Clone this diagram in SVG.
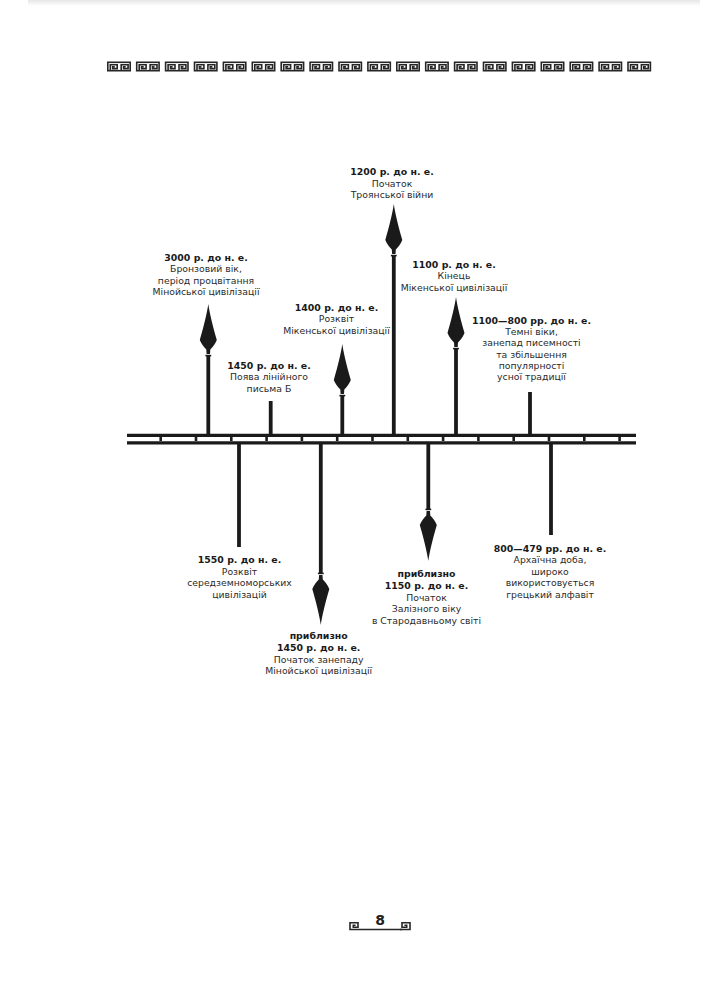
<svg xmlns="http://www.w3.org/2000/svg" xmlns:xlink="http://www.w3.org/1999/xlink" width="728" height="1000" viewBox="0 0 728 1000">
  <defs>
    <style>
      .d { font-family: "DejaVu Sans", "Liberation Sans", sans-serif; font-weight: bold; font-size: 9.4px; fill: #1a1a1a; text-anchor: middle; }
      .t { font-family: "DejaVu Sans", "Liberation Sans", sans-serif; font-size: 9.3px; fill: #2a2a2a; text-anchor: middle; }
      .stem { stroke: #1a1a1a; stroke-width: 3.8; fill: none; }
      .rail { stroke: #1a1a1a; stroke-width: 3.3; fill: none; }
      .tick { stroke: #1a1a1a; stroke-width: 2.6; fill: none; }
      .key { stroke: #262626; stroke-width: 1.6; fill: none; }
      .num { font-family: "DejaVu Sans", "Liberation Sans", sans-serif; font-weight: bold; font-size: 14px; fill: #222; text-anchor: middle; }
    </style>
    <linearGradient id="shadow" x1="0" y1="0" x2="0" y2="1">
      <stop offset="0" stop-color="#e6e6e6"/>
      <stop offset="1" stop-color="#ffffff"/>
    </linearGradient>
    <g id="spear">
      <path d="M0,0 C1,8 5,24 8.5,36 C7,40 4.5,43 2,45.5 L1.7,50 L-1.7,50 L-2,45.5 C-4.5,43 -7,40 -8.5,36 C-5,24 -1,8 0,0 Z" fill="#1a1a1a"/>
      <rect x="-2.9" y="50.8" width="5.8" height="1.6" fill="#1a1a1a"/>
    </g>
    <g id="keyunit">
      <rect x="0.8" y="0.8" width="22.4" height="8.4" class="key"/>
      <path class="key" d="M3.3,9.2 V3.3 H10.2 V7.1 H5.7 V5.2 H7.8"/>
      <path class="key" d="M14.2,9.2 V3.3 H21.1 V7.1 H16.6 V5.2 H18.7"/>
    </g>
  </defs>

  <rect x="0" y="0" width="728" height="1000" fill="#ffffff"/>
  <rect x="28" y="0" width="672" height="6" fill="url(#shadow)"/>

  <g id="border-top">
    <use xlink:href="#keyunit" x="107" y="61.5"/>
    <use xlink:href="#keyunit" x="135.9" y="61.5"/>
    <use xlink:href="#keyunit" x="164.8" y="61.5"/>
    <use xlink:href="#keyunit" x="193.7" y="61.5"/>
    <use xlink:href="#keyunit" x="222.6" y="61.5"/>
    <use xlink:href="#keyunit" x="251.5" y="61.5"/>
    <use xlink:href="#keyunit" x="280.4" y="61.5"/>
    <use xlink:href="#keyunit" x="309.3" y="61.5"/>
    <use xlink:href="#keyunit" x="338.2" y="61.5"/>
    <use xlink:href="#keyunit" x="367.1" y="61.5"/>
    <use xlink:href="#keyunit" x="396" y="61.5"/>
    <use xlink:href="#keyunit" x="424.9" y="61.5"/>
    <use xlink:href="#keyunit" x="453.8" y="61.5"/>
    <use xlink:href="#keyunit" x="482.7" y="61.5"/>
    <use xlink:href="#keyunit" x="511.6" y="61.5"/>
    <use xlink:href="#keyunit" x="540.5" y="61.5"/>
    <use xlink:href="#keyunit" x="569.4" y="61.5"/>
    <use xlink:href="#keyunit" x="598.3" y="61.5"/>
    <use xlink:href="#keyunit" x="627.2" y="61.5"/>
  </g>

  <g id="timeline">
    <line class="rail" x1="127" y1="435.3" x2="636" y2="435.3"/>
    <line class="rail" x1="127" y1="442.8" x2="636" y2="442.8"/>
    <path class="tick" d="M160.7,437 V441 M196,437 V441 M231.3,437 V441 M266.6,437 V441 M301.9,437 V441 M337.2,437 V441 M372.5,437 V441 M407.8,437 V441 M443.1,437 V441 M478.4,437 V441 M513.7,437 V441 M549,437 V441 M584.3,437 V441 M619.6,437 V441"/>
  </g>

  <g id="connectors">
    <line class="stem" x1="208.3" y1="355" x2="208.3" y2="435"/>
    <line class="stem" x1="270.7" y1="401" x2="270.7" y2="435"/>
    <line class="stem" x1="342.3" y1="396" x2="342.3" y2="435"/>
    <line class="stem" x1="393.8" y1="256" x2="393.8" y2="435"/>
    <line class="stem" x1="456" y1="349" x2="456" y2="435"/>
    <line class="stem" x1="530" y1="392" x2="530" y2="435"/>
    <line class="stem" x1="239" y1="443" x2="239" y2="547"/>
    <line class="stem" x1="320.8" y1="443" x2="320.8" y2="574"/>
    <line class="stem" x1="428.3" y1="443" x2="428.3" y2="509"/>
    <line class="stem" x1="551" y1="443" x2="551" y2="535"/>
    <use xlink:href="#spear" transform="translate(208.3,304)"/>
    <use xlink:href="#spear" transform="translate(342.3,344)"/>
    <use xlink:href="#spear" transform="translate(393.8,204)"/>
    <use xlink:href="#spear" transform="translate(456,297)"/>
    <use xlink:href="#spear" transform="translate(320.8,625) scale(1,-1)"/>
    <use xlink:href="#spear" transform="translate(428.3,561) scale(1,-1)"/>
  </g>

  <g id="n3000">
    <text class="d" x="206" y="260.5">3000 р. до н. е.</text>
    <text class="t" x="206" y="272">Бронзовий вік,</text>
    <text class="t" x="206" y="283.5">період процвітання</text>
    <text class="t" x="206" y="295">Мінойської цивілізації</text>
  </g>

  <g id="n1450b">
    <text class="d" x="269" y="368.5">1450 р. до н. е.</text>
    <text class="t" x="269" y="380">Поява лінійного</text>
    <text class="t" x="269" y="391.5">письма Б</text>
  </g>

  <g id="n1400">
    <text class="d" x="336.5" y="310.5">1400 р. до н. е.</text>
    <text class="t" x="336.5" y="322">Розквіт</text>
    <text class="t" x="336.5" y="333.5">Мікенської цивілізації</text>
  </g>

  <g id="n1200">
    <text class="d" x="392" y="175">1200 р. до н. е.</text>
    <text class="t" x="392" y="186.5">Початок</text>
    <text class="t" x="392" y="198">Троянської війни</text>
  </g>

  <g id="n1100">
    <text class="d" x="454" y="268">1100 р. до н. е.</text>
    <text class="t" x="454" y="279.3">Кінець</text>
    <text class="t" x="454" y="290.6">Мікенської цивілізації</text>
  </g>

  <g id="n1100-800">
    <text class="d" x="531.5" y="323.5">1100—800 рр. до н. е.</text>
    <text class="t" x="531.5" y="335">Темні віки,</text>
    <text class="t" x="531.5" y="346.3">занепад писемності</text>
    <text class="t" x="531.5" y="357.6">та збільшення</text>
    <text class="t" x="531.5" y="369">популярності</text>
    <text class="t" x="531.5" y="380.3">усної традиції</text>
  </g>

  <g id="n1550">
    <text class="d" x="239.5" y="563">1550 р. до н. е.</text>
    <text class="t" x="239.5" y="574.5">Розквіт</text>
    <text class="t" x="239.5" y="586">середземноморських</text>
    <text class="t" x="239.5" y="597.5">цивілізацій</text>
  </g>

  <g id="n1450">
    <text class="d" x="318.7" y="639">приблизно</text>
    <text class="d" x="318.7" y="651">1450 р. до н. е.</text>
    <text class="t" x="318.7" y="662.5">Початок занепаду</text>
    <text class="t" x="318.7" y="674">Мінойської цивілізації</text>
  </g>

  <g id="n1150">
    <text class="d" x="426.5" y="577">приблизно</text>
    <text class="d" x="426.5" y="589">1150 р. до н. е.</text>
    <text class="t" x="426.5" y="600.5">Початок</text>
    <text class="t" x="426.5" y="612">Залізного віку</text>
    <text class="t" x="426.5" y="623.5">в Стародавньому світі</text>
  </g>

  <g id="n800">
    <text class="d" x="550" y="551.5">800—479 рр. до н. е.</text>
    <text class="t" x="550" y="563">Архаїчна доба,</text>
    <text class="t" x="550" y="574.5">широко</text>
    <text class="t" x="550" y="586">використовується</text>
    <text class="t" x="550" y="597.5">грецький алфавіт</text>
  </g>

  <g id="footer">
    <path class="key" d="M360,929.5 H350 V922.8 H358 V927.3 H353.3 V925.2 H355.6"/>
    <path class="key" d="M360,929.5 H402"/>
    <path class="key" d="M400,929.5 H410 V922.8 H402 V927.3 H406.7 V925.2 H404.4"/>
    <text class="num" x="380" y="925">8</text>
  </g>
</svg>
